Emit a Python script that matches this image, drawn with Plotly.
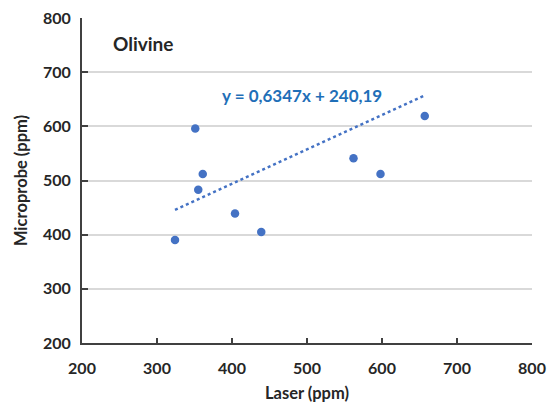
import plotly.graph_objects as go

laser = [351, 361, 355, 562, 598, 657, 324, 404, 439]
microprobe = [596, 512, 483, 541, 512, 619, 390, 439, 405]
slope = 0.6347
intercept = 240.19
tick_vals = [200, 300, 400, 500, 600, 700, 800]

FONT = "Lato"
BLUE = "#4472C4"
AX = "#404040"
TXT = "#262626"

tx = [min(laser), max(laser)]
ty = [slope * v + intercept for v in tx]

fig = go.Figure()
fig.add_trace(go.Scatter(x=tx, y=ty, mode="lines",
                         line=dict(color=BLUE, width=2.5, dash="dot"),
                         hoverinfo="skip", showlegend=False))
fig.add_trace(go.Scatter(x=laser, y=microprobe, mode="markers",
                         marker=dict(color=BLUE, size=8.5), showlegend=False))

eq = "y = " + f"{slope:.4f}".replace(".", ",") + "x + " + f"{intercept:.2f}".replace(".", ",")
fig.add_annotation(x=0.489, y=0.763, xref="paper", yref="paper", text=f"<b>{eq}</b>",
                   xanchor="center", yanchor="middle",
                   showarrow=False, font=dict(family=FONT, size=17, color="#1F6FB8"))
fig.add_annotation(x=0.064, y=0.92, xref="paper", yref="paper", xanchor="left", yanchor="middle",
                   text="<b>Olivine</b>", showarrow=False,
                   font=dict(family=FONT, size=19, color=TXT))

tickfont = dict(family=FONT, size=16, color=TXT, weight="bold")
titlefont = dict(family=FONT, size=16.5, color=TXT)

fig.update_layout(
    width=550, height=406,
    margin=dict(l=82, r=18, t=18, b=63),
    paper_bgcolor="white", plot_bgcolor="white",
    font=dict(family=FONT, color=TXT),
    xaxis=dict(range=[200, 800], tickvals=tick_vals, showgrid=False, zeroline=False,
               showline=True, linecolor=AX, linewidth=2, automargin=False,
               ticks="inside", ticklen=5, tickwidth=1.5, tickcolor=AX,
               tickfont=tickfont, ticklabelstandoff=10,
               title=dict(text="<b>Laser (ppm)</b>", font=titlefont, standoff=11)),
    yaxis=dict(range=[200, 800], tickvals=tick_vals, showgrid=True, gridcolor="#D9D9D9", gridwidth=1.5,
               zeroline=False, showline=True, linecolor=AX, linewidth=2, automargin=False,
               ticks="inside", ticklen=6, tickwidth=1.5, tickcolor=AX,
               tickfont=tickfont, ticklabelstandoff=6,
               title=dict(text="<b>Microprobe (ppm)</b>", font=titlefont, standoff=11)),
)

fig.write_html("out.html")
